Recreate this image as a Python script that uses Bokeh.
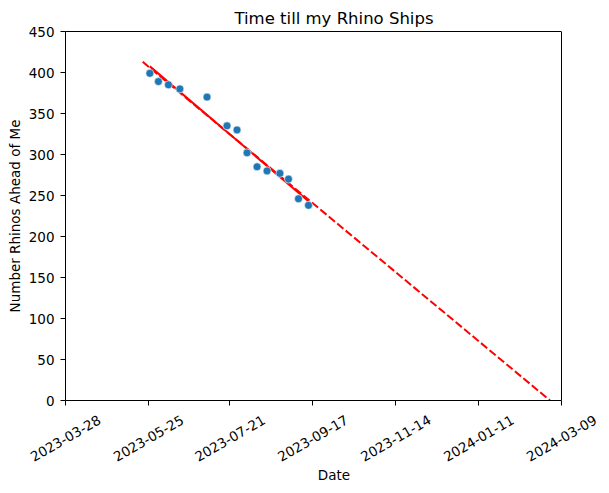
import math
import numpy as np
import pandas as pd
from bokeh.plotting import figure
from bokeh.models import (Range1d, FixedTicker, CustomJSTickFormatter, DatetimeAxis, LinearAxis)
from bokeh.embed import file_html
from bokeh.resources import INLINE

# ---- data ----
title = "Time till my Rhino Ships"
dates = ["2023-05-26", "2023-06-01", "2023-06-08", "2023-06-16", "2023-07-05",
         "2023-07-19", "2023-07-26", "2023-08-02", "2023-08-09", "2023-08-16",
         "2023-08-25", "2023-08-31", "2023-09-07", "2023-09-14"]
rhinos_ahead = [399, 389, 385, 380, 370, 335, 330, 302, 285, 280, 277, 270, 246, 238]
projection_dates = ["2023-05-21", "2024-03-01"]
projection_values = [413, 0]
x_tick_labels = ["2023-03-28", "2023-05-25", "2023-07-21", "2023-09-17",
                 "2023-11-14", "2024-01-11", "2024-03-09"]
y_ticks = [0, 50, 100, 150, 200, 250, 300, 350, 400, 450]

# ---- fit over observed dates ----
d = pd.to_datetime(dates)
t0 = d[0]
days = np.array([(x - t0).days for x in d], dtype=float)
slope, intercept = np.polyfit(days, np.array(rhinos_ahead, float), 1)
fit_x = [d[0], d[-1]]
fit_y = [intercept + slope * days[0], intercept + slope * days[-1]]
proj_x = list(pd.to_datetime(projection_dates))

xt = pd.to_datetime(x_tick_labels)
tick_ms = [int(x.value // 10**6) for x in xt]
x0, x1 = tick_ms[0], tick_ms[-1]

AXES_W, AXES_H = 496, 369          # size of the axes box in px
EXT_PX = 41                         # room right of the box for the last date label
SHIFT_PX = 34                       # centre rotated labels under their ticks
ms_per_px = (x1 - x0) / AXES_W
ext_ms = int(round(EXT_PX * ms_per_px))
shift_ms = int(round(SHIFT_PX * ms_per_px))

p = figure(x_axis_type="datetime", output_backend="svg", toolbar_location=None,
           frame_width=AXES_W + EXT_PX, frame_height=AXES_H,
           x_range=Range1d(x0, x1 + ext_ms), y_range=Range1d(0, 450),
           min_border=0)
p.margin = (5, 0, 0, 3)
p.background_fill_color = "white"
p.border_fill_color = "white"
p.outline_line_color = None
p.grid.visible = False


def style(ax):
    ax.axis_line_color = "black"
    ax.axis_line_width = 1
    ax.major_tick_line_color = "black"
    ax.major_tick_out = 5
    ax.major_tick_in = 0
    ax.minor_tick_line_color = None
    ax.major_label_text_font = "DejaVu Sans"
    ax.major_label_text_font_size = "13.5px"
    ax.major_label_text_color = "black"
    ax.axis_label_text_font = "DejaVu Sans"
    ax.axis_label_text_font_size = "13.5px"
    ax.axis_label_text_font_style = "normal"
    ax.axis_label_text_color = "black"


def bare(ax):
    style(ax)
    ax.major_tick_line_color = None
    ax.major_tick_out = 0
    ax.formatter = CustomJSTickFormatter(code="return ''")
    ax.major_label_text_font_size = "0px"
    ax.major_label_standoff = 0


# bottom spine with tick marks at the true dates
xa = p.xaxis[0]
style(xa)
xa.bounds = (x0, x1)
xa.ticker = FixedTicker(ticks=tick_ms)
xa.formatter = CustomJSTickFormatter(code="return ''")
xa.major_label_text_font_size = "0px"
xa.major_label_standoff = 0

# left spine / y axis
ya = p.yaxis[0]
style(ya)
ya.ticker = FixedTicker(ticks=y_ticks)
ya.major_label_standoff = 6
ya.axis_label = "Number Rhinos Ahead of Me"
ya.axis_label_standoff = 3

# rotated date labels (Bokeh right-aligns rotated labels -> shifted axis)
lab_ticks = [t + shift_ms for t in tick_ms]
lab_axis = DatetimeAxis(ticker=FixedTicker(ticks=lab_ticks),
                        formatter=CustomJSTickFormatter(
                            args=dict(labels=x_tick_labels, pos=lab_ticks),
                            code="""
let best = 0, bd = Infinity;
for (let i = 0; i < pos.length; i++) {
  const dd = Math.abs(pos[i] - tick);
  if (dd < bd) { bd = dd; best = i; }
}
return labels[best];
"""))
style(lab_axis)
lab_axis.axis_line_color = None
lab_axis.major_tick_line_color = None
lab_axis.major_tick_out = 0
lab_axis.major_label_orientation = math.pi / 6
lab_axis.major_label_standoff = 13
p.add_layout(lab_axis, "below")

# x-axis title, centred on the axes box
date_axis = DatetimeAxis(bounds=(x0, x1), ticker=FixedTicker(ticks=[]))
bare(date_axis)
date_axis.axis_line_color = None
date_axis.axis_label = "Date"
date_axis.axis_label_standoff = -3
p.add_layout(date_axis, "below")

# top spine carrying the chart title
top_axis = DatetimeAxis(bounds=(x0, x1), ticker=FixedTicker(ticks=[]))
bare(top_axis)
top_axis.axis_label = title
top_axis.axis_label_text_font_size = "16.5px"
top_axis.axis_label_standoff = 4
p.add_layout(top_axis, "above")

# right spine at the last date
right_axis = LinearAxis(ticker=FixedTicker(ticks=[]), fixed_location=x1)
bare(right_axis)
p.add_layout(right_axis, "right")

p.line(proj_x, projection_values, line_color="red", line_width=2, line_dash="8 3")
p.line(fit_x, fit_y, line_color="red", line_width=2)
p.scatter(x=list(d), y=rhinos_ahead, size=8, fill_color="#1f77b4",
          line_color="white", line_width=0.6)

open("out.html", "w").write(file_html(p, INLINE))
